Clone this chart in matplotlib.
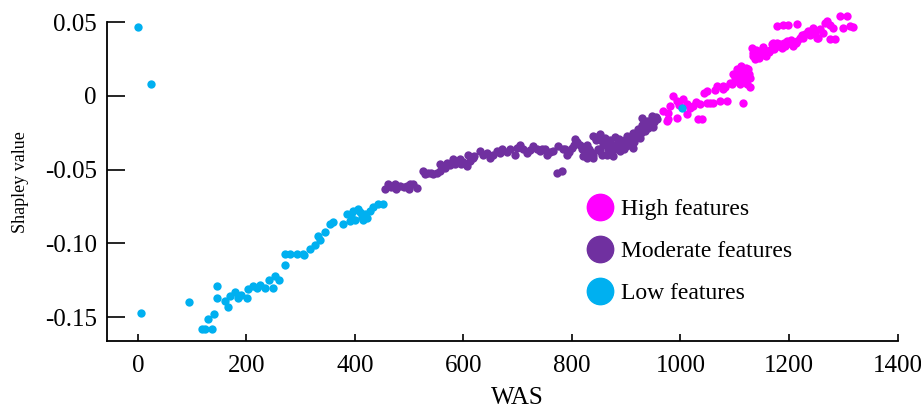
import matplotlib
matplotlib.use("Agg")
import matplotlib.pyplot as plt
from matplotlib.lines import Line2D

plt.rcParams['font.family'] = ['Liberation Serif', 'DejaVu Serif']

# ---- data (WAS, Shapley value) ----
low_x = [0, 24, 5.5, 94, 118, 123, 129, 136, 140, 146, 146, 160, 166, 170, 179, 184, 190,
         201, 203, 212, 219, 225, 234, 241, 249, 252, 260, 271, 271, 280, 293, 304, 306,
         317, 326, 332, 335, 345, 354, 360, 378, 385, 391, 396, 400, 405, 413, 418, 422,
         427, 433, 442, 452, 393, 410, 415, 1003]
low_y = [0.047, 0.008, -0.147, -0.140, -0.158, -0.158, -0.151, -0.158, -0.148, -0.129, -0.137,
         -0.139, -0.143, -0.136, -0.133, -0.137, -0.135, -0.137, -0.131, -0.129, -0.130, -0.128,
         -0.130, -0.125, -0.130, -0.122, -0.125, -0.115, -0.1075, -0.107, -0.1075, -0.107, -0.108,
         -0.104, -0.101, -0.095, -0.098, -0.092, -0.087, -0.0857, -0.087, -0.080, -0.085, -0.078,
         -0.084, -0.077, -0.082, -0.080, -0.083, -0.078, -0.075, -0.0735, -0.073, -0.081, -0.079,
         -0.084, -0.008]

mod_x = [455, 461, 466, 474, 483, 490, 496, 502, 507, 514, 525, 535, 544, 551, 557, 557, 570,
         575, 581, 590, 594, 600, 607, 608, 617, 630, 643, 649, 662, 671, 686, 695, 704, 717,
         728, 741, 754, 765, 774, 772, 781, 791, 800, 806, 815, 820, 828, 828, 839, 839, 839,
         851, 851, 861, 864, 874, 876, 876, 885, 889, 894, 902, 907, 913, 913, 922, 925, 929,
         935, 938, 948, 957, 845, 858, 868, 880, 896, 905, 918, 930, 942, 950, 810, 795, 784,
         750, 735, 710, 680, 655, 620, 585, 563, 530, 475, 500,
         832, 836, 843, 848, 854, 856, 866, 870, 872, 878, 883, 887, 892, 898, 900, 910, 915,
         920, 927, 933, 940, 945, 952, 955, 824, 818, 803, 788, 760, 745, 722, 698, 668, 637,
         612, 596, 566, 541]
mod_y = [-0.063, -0.060, -0.062, -0.060, -0.061, -0.062, -0.061, -0.060, -0.060, -0.0625,
         -0.051, -0.052, -0.053, -0.052, -0.046, -0.051, -0.0455, -0.047, -0.043, -0.044, -0.043,
         -0.045, -0.0476, -0.040, -0.042, -0.0375, -0.039, -0.042, -0.0375, -0.036, -0.036,
         -0.040, -0.033, -0.039, -0.034, -0.0375, -0.040, -0.0375, -0.034, -0.052, -0.051,
         -0.040, -0.035, -0.029, -0.033, -0.041, -0.033, -0.042, -0.027, -0.040, -0.042, -0.026,
         -0.0375, -0.0286, -0.040, -0.0375, -0.034, -0.041, -0.031, -0.0375, -0.031, -0.027,
         -0.033, -0.025, -0.035, -0.0225, -0.0286, -0.015, -0.024, -0.017, -0.0136, -0.0156,
         -0.030, -0.033, -0.032, -0.028, -0.036, -0.030, -0.028, -0.020, -0.019, -0.021, -0.031,
         -0.038, -0.036, -0.036, -0.036, -0.036, -0.038, -0.040, -0.041, -0.046, -0.048, -0.053,
         -0.063, -0.063,
         -0.036, -0.038, -0.028, -0.036, -0.030, -0.040, -0.036, -0.030, -0.038, -0.033, -0.036,
         -0.029, -0.035, -0.030, -0.034, -0.029, -0.031, -0.026, -0.025, -0.021, -0.022, -0.016,
         -0.018, -0.014, -0.038, -0.036, -0.033, -0.036, -0.038, -0.036, -0.037, -0.035, -0.039,
         -0.040, -0.044, -0.046, -0.049, -0.052]

high_x = [968, 975, 977, 977, 981, 986, 993, 993, 1012, 1012, 1017, 1023, 1032, 1036, 1040,
          1049, 1049, 1054, 1060, 1067, 1073, 1078, 1078, 1086, 1091, 1097, 1104, 1106, 1110,
          1115, 1115, 1123, 1123, 1123, 1128, 1118, 1120, 1110, 1100, 1112, 1125, 1128,
          1132, 1134, 1140, 1147, 1152, 1160, 1169, 1170, 1178, 1184, 1187, 1196, 1206, 1208,
          1215, 1220, 1226, 1235, 1239, 1244, 1252, 1254, 1257, 1266, 1270, 1276, 1285, 1281,
          1294, 1300, 1307, 1313, 1318, 1178, 1189, 1198, 1215, 1136, 1138, 1145, 1155, 1165,
          1175, 1190, 1200, 1230, 1262, 1275,
          1133, 1142, 1150, 1158, 1163, 1172, 1181, 1193, 1203, 1212, 1224, 1248, 1108, 1116,
          1121, 1126, 1102, 1095, 1082, 1063, 1044, 1028, 1005, 998]
high_y = [-0.010, -0.017, -0.0116, -0.0156, -0.0068, 0.0, -0.015, -0.0034, -0.012, -0.0054,
          -0.008, -0.0068, -0.0156, -0.0054, -0.0156, -0.0048, 0.0034, -0.005, -0.0048, 0.0068,
          -0.0034, 0.0068, 0.0048, -0.0034, 0.0088, 0.015, 0.018, 0.0122, 0.0156, 0.0156,
          -0.0048, 0.017, 0.0116, 0.008, 0.0122, 0.010, 0.019, 0.008, 0.012, 0.020, 0.018, 0.006,
          0.0327, 0.027, 0.031, 0.029, 0.033, 0.0306, 0.035, 0.036, 0.036, 0.035, 0.0327, 0.0374,
          0.035, 0.034, 0.0374, 0.0395, 0.0395, 0.044, 0.041, 0.046, 0.0395, 0.0395, 0.0456,
          0.0497, 0.051, 0.0388, 0.0388, 0.046, 0.0544, 0.046, 0.0544, 0.0476, 0.047, 0.0476,
          0.0483, 0.0483, 0.049, 0.030, 0.025, 0.026, 0.028, 0.031, 0.033, 0.036, 0.036, 0.042,
          0.043, 0.048,
          0.029, 0.028, 0.031, 0.027, 0.030, 0.032, 0.034, 0.034, 0.038, 0.036, 0.041, 0.043,
          0.016, 0.012, 0.014, 0.015, 0.010, 0.008, 0.006, 0.004, 0.002, -0.004, -0.002, -0.006]

series = ["High features", "Moderate features", "Low features"]
colors = ["#FF00FF", "#7030A0", "#00B0F0"]

xticks = [0, 200, 400, 600, 800, 1000, 1200, 1400]
yticks = [0.05, 0, -0.05, -0.10, -0.15]
ytick_labels = ["0.05", "0", "-0.05", "-0.10", "-0.15"]

fig = plt.figure(figsize=(9.21, 4.11), dpi=100)
ax = fig.add_axes([0.1158, 0.170, 0.8587, 0.776])

s = 36
ax.scatter(mod_x, mod_y, s=s, color=colors[1], linewidths=0, clip_on=False, zorder=2)
ax.scatter(high_x, high_y, s=s, color=colors[0], linewidths=0, clip_on=False, zorder=3)
ax.scatter(low_x, low_y, s=s, color=colors[2], linewidths=0, clip_on=False, zorder=4)

ax.set_xlim(-57.5, 1400)
ax.set_ylim(-0.1663, 0.05)
ax.set_xticks(xticks)
ax.set_xticklabels([str(t) for t in xticks])
ax.set_yticks(yticks)
ax.set_yticklabels(ytick_labels)

for sp in ["top", "right"]:
    ax.spines[sp].set_visible(False)
for sp in ["left", "bottom"]:
    ax.spines[sp].set_linewidth(1.3)

ax.tick_params(axis="x", direction="in", length=5, width=1.2, labelsize=18, pad=10)
ax.tick_params(axis="y", direction="in", length=13, width=1.2, labelsize=18, pad=7)

ax.set_xlabel("WAS", fontsize=18)
ax.xaxis.set_label_coords(0.519, -0.145)
ax.set_ylabel("Shapley value", fontsize=13)
ax.yaxis.set_label_coords(-0.098, 0.5)

handles = [Line2D([], [], linestyle="none", marker="o", markersize=19,
                  markerfacecolor=c, markeredgecolor=c) for c in colors]
fig.legend(handles, series, loc="upper left", bbox_to_anchor=(0.637, 0.516),
           frameon=False, fontsize=17, handlelength=1.1, handletextpad=0.35,
           labelspacing=0.86, borderpad=0, borderaxespad=0)

fig.savefig("out.png", dpi=100)
